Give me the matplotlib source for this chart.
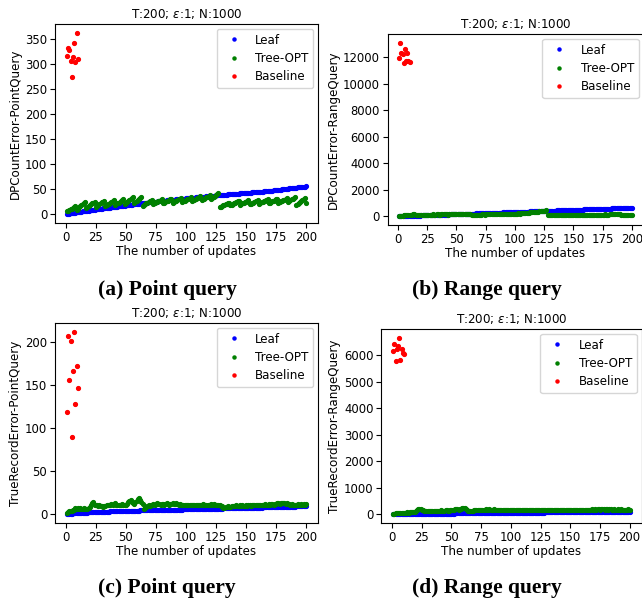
import matplotlib
matplotlib.use("Agg")
import matplotlib.pyplot as plt

updates = list(range(1, 201))
baseline_updates = list(range(1, 11))

title_text = "T:200; $\\varepsilon$:1; N:1000"
xlabel_text = "The number of updates"
series_labels = ["Leaf", "Tree-OPT", "Baseline"]
series_colors = ["b", "g", "r"]

# ---------------- (a) DPCountError-PointQuery ----------------
leaf_a = [
    0.0, 0.4, 0.8, 1.1, 1.5, 1.9, 2.3, 2.6, 3.0, 3.4,
    3.8, 4.1, 4.5, 4.9, 5.3, 5.6, 6.0, 6.4, 6.8, 7.1,
    7.5, 7.9, 8.3, 8.6, 9.0, 9.3, 9.6, 10.0, 10.3, 10.6,
    10.9, 11.2, 11.6, 11.9, 12.2, 12.5, 12.8, 13.2, 13.5, 13.8,
    14.1, 14.4, 14.8, 15.1, 15.4, 15.7, 16.0, 16.4, 16.7, 17.0,
    17.3, 17.7, 18.0, 18.3, 18.7, 19.0, 19.3, 19.7, 20.0, 20.3,
    20.7, 21.0, 21.3, 21.7, 22.0, 22.3, 22.5, 22.8, 23.0, 23.3,
    23.5, 23.8, 24.1, 24.3, 24.6, 24.8, 25.1, 25.3, 25.6, 25.9,
    26.1, 26.4, 26.6, 26.9, 27.1, 27.4, 27.7, 27.9, 28.2, 28.4,
    28.7, 28.9, 29.2, 29.5, 29.7, 30.0, 30.2, 30.5, 30.7, 31.0,
    31.2, 31.5, 31.7, 32.0, 32.2, 32.4, 32.7, 32.9, 33.2, 33.4,
    33.6, 33.9, 34.1, 34.4, 34.6, 34.8, 35.1, 35.3, 35.6, 35.8,
    36.0, 36.3, 36.5, 36.8, 37.0, 37.2, 37.4, 37.6, 37.8, 38.0,
    38.2, 38.4, 38.6, 38.8, 39.0, 39.2, 39.4, 39.6, 39.8, 40.0,
    40.2, 40.4, 40.6, 40.8, 41.0, 41.2, 41.4, 41.6, 41.8, 42.0,
    42.2, 42.4, 42.6, 42.8, 43.0, 43.2, 43.4, 43.6, 43.8, 44.0,
    44.2, 44.4, 44.6, 44.8, 45.0, 45.2, 45.4, 45.6, 45.8, 46.0,
    46.3, 46.6, 46.9, 47.2, 47.5, 47.8, 48.1, 48.4, 48.7, 49.0,
    49.3, 49.6, 49.9, 50.2, 50.5, 50.8, 51.1, 51.4, 51.7, 52.0,
    52.3, 52.6, 52.9, 53.2, 53.5, 53.8, 54.1, 54.4, 54.7, 55.0,
]
tree_a = [
    5, 6, 8, 9, 10, 12, 13, 15,
    8, 10, 13, 15, 17, 20, 22, 24,
    12, 14, 16, 17, 19, 21, 22, 24,
    14, 16, 17, 19, 21, 23, 24, 26,
    15, 17, 19, 20, 22, 24, 25, 27,
    17, 19, 21, 22, 24, 26, 27, 29,
    20, 22, 24, 25, 27, 29, 31, 33,
    22, 24, 26, 28, 30, 31, 33,
    16, 18, 19, 21, 22, 23, 25, 26, 27,
    20, 21, 23, 24, 25, 26, 28, 29,
    21, 22, 24, 25, 26, 27, 29, 30,
    22, 23, 25, 26, 28, 29, 30, 32,
    23, 25, 26, 28, 29, 30, 32, 33,
    25, 27, 28, 29, 31, 32, 34, 35,
    27, 29, 30, 32, 33, 34, 36, 37,
    30, 32, 34, 36, 38, 40, 42,
    13, 14, 15, 17, 18, 19, 20, 21, 22,
    17, 18, 20, 21, 22, 23, 25, 26,
    18, 19, 21, 22, 23, 24, 26, 27,
    19, 20, 21, 22, 24, 25, 26, 27,
    20, 21, 23, 24, 25, 26, 28, 29,
    21, 22, 24, 25, 26, 27, 29, 30,
    22, 23, 25, 26, 27, 28, 30, 31,
    24, 26, 27, 29, 30, 32, 33,
    18, 20, 22, 24, 25, 27, 29, 31, 22,
]
base_a = [315, 331, 328, 306, 273, 313, 341, 303, 361, 310]

# ---------------- (b) DPCountError-RangeQuery ----------------
leaf_b = [
    3, 7, 10, 13, 16, 20, 23, 26, 29, 33,
    36, 39, 42, 46, 49, 52, 55, 59, 62, 65,
    68, 72, 75, 78, 81, 85, 88, 91, 94, 98,
    101, 104, 107, 111, 114, 117, 120, 124, 127, 130,
    133, 137, 140, 143, 146, 150, 153, 156, 159, 163,
    166, 169, 172, 176, 179, 182, 185, 189, 192, 195,
    198, 202, 205, 208, 211, 215, 218, 221, 224, 228,
    231, 234, 237, 241, 244, 247, 250, 254, 257, 260,
    263, 267, 270, 273, 276, 280, 283, 286, 289, 293,
    296, 299, 302, 306, 309, 312, 315, 319, 322, 325,
    328, 332, 335, 338, 341, 345, 348, 351, 354, 358,
    361, 364, 367, 371, 374, 377, 380, 384, 387, 390,
    393, 397, 400, 403, 406, 410, 413, 416, 419, 423,
    426, 429, 432, 436, 439, 442, 445, 449, 452, 455,
    458, 462, 465, 468, 471, 475, 478, 481, 484, 488,
    491, 494, 497, 501, 504, 507, 510, 514, 517, 520,
    523, 527, 530, 533, 536, 540, 543, 546, 549, 553,
    556, 559, 562, 566, 569, 572, 575, 579, 582, 585,
    588, 592, 595, 598, 601, 605, 608, 611, 614, 618,
    621, 624, 627, 631, 634, 637, 640, 644, 647, 650,
]
tree_b = [
    20, 40, 60, 55, 80, 90, 70, 100, 110, 95,
    120, 130, 150, 170, 140, 110, 120, 130, 115, 125,
    140, 120, 130, 135, 110, 120, 125, 140, 130, 150,
    140, 130, 145, 150, 135, 140, 160, 150, 145, 155,
    165, 150, 140, 155, 160, 170, 150, 145, 160, 165,
    150, 160, 175, 170, 155, 165, 180, 170, 160, 175,
    165, 150, 140, 110, 120, 130, 125, 135, 140, 130,
    140, 150, 145, 135, 150, 160, 155, 145, 150, 160,
    165, 155, 150, 160, 170, 165, 155, 170, 175, 165,
    160, 175, 180, 170, 185, 190, 180, 195, 200, 205,
    200, 210, 220, 215, 230, 240, 235, 250, 260, 270,
    280, 290, 295, 305, 310, 320, 330, 340, 345, 355,
    370, 380, 395, 410, 420, 440, 455, 80, 90, 95,
    100, 110, 95, 105, 115, 100, 110, 120, 105, 115,
    125, 110, 100, 115, 120, 105, 110, 120, 130, 115,
    100, 110, 120, 105, 115, 125, 110, 100, 115, 125,
    130, 115, 105, 120, 125, 110, 120, 130, 140, 125,
    115, 125, 135, 120, 130, 140, 150, 135, 125, 140,
    150, 160, 145, 155, 165, 175, 160, 150, 170, 180,
    90, 100, 110, 95, 105, 115, 100, 110, 90, 100,
]
base_b = [11900, 13090, 12280, 12200, 11570, 12640, 11700, 12280, 11700, 11620]

# ---------------- (c) TrueRecordError-PointQuery ----------------
leaf_c = [
    0.1, 0.2, 0.3, 0.4, 0.5, 0.6, 0.7, 0.8, 0.9, 1.0,
    1.1, 1.2, 1.3, 1.4, 1.4, 1.5, 1.6, 1.7, 1.8, 1.9,
    2.0, 2.0, 2.1, 2.2, 2.2, 2.3, 2.4, 2.4, 2.5, 2.5,
    2.6, 2.6, 2.7, 2.7, 2.8, 2.8, 2.9, 2.9, 3.0, 3.0,
    3.1, 3.1, 3.2, 3.2, 3.3, 3.3, 3.4, 3.4, 3.5, 3.5,
    3.6, 3.6, 3.7, 3.7, 3.8, 3.8, 3.9, 3.9, 4.0, 4.0,
    4.0, 4.1, 4.1, 4.1, 4.2, 4.2, 4.2, 4.3, 4.3, 4.3,
    4.4, 4.4, 4.4, 4.5, 4.5, 4.5, 4.6, 4.6, 4.6, 4.7,
    4.7, 4.7, 4.8, 4.8, 4.8, 4.9, 4.9, 4.9, 5.0, 5.0,
    5.0, 5.1, 5.1, 5.1, 5.2, 5.2, 5.2, 5.3, 5.3, 5.3,
    5.4, 5.4, 5.4, 5.5, 5.5, 5.5, 5.6, 5.6, 5.6, 5.7,
    5.7, 5.7, 5.8, 5.8, 5.8, 5.9, 5.9, 5.9, 6.0, 6.0,
    6.0, 6.1, 6.1, 6.1, 6.2, 6.2, 6.2, 6.3, 6.3, 6.3,
    6.4, 6.4, 6.4, 6.5, 6.5, 6.5, 6.6, 6.6, 6.6, 6.7,
    6.7, 6.7, 6.8, 6.8, 6.8, 6.9, 6.9, 6.9, 7.0, 7.0,
    7.0, 7.1, 7.1, 7.2, 7.2, 7.2, 7.3, 7.3, 7.4, 7.4,
    7.4, 7.5, 7.5, 7.6, 7.6, 7.6, 7.7, 7.7, 7.8, 7.8,
    7.8, 7.9, 7.9, 8.0, 8.0, 8.0, 8.1, 8.1, 8.2, 8.2,
    8.2, 8.3, 8.3, 8.4, 8.4, 8.4, 8.5, 8.5, 8.6, 8.6,
    8.6, 8.7, 8.7, 8.8, 8.8, 8.8, 8.9, 8.9, 9.0, 9.0,
]
tree_c = [
    1.5, 2, 3, 3, 4, 5, 5, 7, 6, 7,
    6, 7, 6, 6, 7, 6, 6, 6, 7, 8,
    10, 13, 14, 11, 10, 10, 9, 10, 9, 9,
    8, 9, 9, 10, 11, 10, 11, 12, 11, 12,
    13, 11, 10, 11, 11, 10, 12, 11, 10, 11,
    12, 14, 15, 16, 14, 13, 12, 14, 15, 17,
    18, 16, 14, 12, 6, 7, 8, 9, 10, 9,
    10, 11, 12, 11, 12, 13, 12, 12, 11, 12,
    12, 11, 12, 13, 12, 11, 12, 12, 13, 12,
    12, 13, 12, 11, 12, 11, 10, 11, 10, 10,
    10, 10, 11, 10, 10, 11, 10, 11, 11, 10,
    10, 11, 11, 12, 11, 10, 11, 10, 10, 11,
    12, 11, 12, 10, 11, 11, 10, 10, 9, 9,
    7, 7, 8, 8, 9, 8, 8, 9, 9, 9,
    9, 10, 9, 9, 10, 9, 10, 9, 9, 10,
    9, 10, 10, 9, 10, 10, 11, 10, 10, 11,
    10, 11, 10, 11, 11, 12, 11, 11, 12, 11,
    12, 12, 11, 12, 12, 13, 13, 12, 13, 13,
    13, 13, 12, 13, 12, 12, 11, 12, 11, 11,
    11, 11, 12, 11, 11, 12, 11, 12, 11, 12,
]
base_c = [118.5, 207, 156, 200.7, 89, 165.8, 211, 127.7, 171.6, 146.4]

# ---------------- (d) TrueRecordError-RangeQuery ----------------
leaf_d = [
    1, 1, 2, 2, 3, 3, 4, 4, 5, 5,
    6, 6, 7, 7, 8, 8, 9, 9, 10, 10,
    11, 11, 12, 12, 13, 13, 14, 14, 15, 15,
    16, 16, 17, 17, 18, 18, 19, 19, 20, 20,
    21, 21, 22, 22, 23, 23, 24, 24, 25, 25,
    26, 26, 27, 27, 28, 28, 29, 29, 30, 30,
    31, 31, 32, 32, 33, 33, 34, 34, 35, 35,
    36, 36, 37, 37, 38, 38, 39, 39, 40, 40,
    41, 41, 42, 42, 43, 43, 44, 44, 45, 45,
    46, 46, 47, 47, 48, 48, 49, 49, 50, 50,
    51, 51, 52, 52, 53, 53, 54, 54, 55, 55,
    56, 56, 57, 57, 58, 58, 59, 59, 60, 60,
    61, 61, 62, 62, 63, 63, 64, 64, 65, 65,
    66, 66, 67, 67, 68, 68, 69, 69, 70, 70,
    71, 71, 72, 72, 73, 73, 74, 74, 75, 75,
    76, 76, 77, 77, 78, 78, 79, 79, 80, 80,
    81, 81, 82, 82, 83, 83, 84, 84, 85, 85,
    86, 86, 87, 87, 88, 88, 89, 89, 90, 90,
    91, 91, 92, 92, 93, 93, 94, 94, 95, 95,
    96, 96, 97, 97, 98, 98, 99, 99, 100, 100,
]
tree_d = [
    20, 25, 30, 35, 30, 40, 45, 50, 40, 55,
    50, 60, 65, 55, 70, 75, 80, 70, 90, 120,
    170, 210, 190, 180, 160, 150, 140, 130, 120, 125,
    120, 115, 125, 130, 120, 125, 135, 130, 120, 140,
    145, 135, 130, 140, 150, 145, 140, 135, 150, 160,
    150, 160, 190, 200, 180, 170, 190, 210, 240, 250,
    230, 200, 160, 120, 110, 120, 130, 140, 150, 145,
    150, 155, 160, 170, 165, 160, 170, 175, 180, 170,
    175, 180, 170, 165, 175, 180, 170, 165, 170, 175,
    165, 170, 160, 165, 170, 160, 155, 165, 160, 155,
    150, 160, 155, 165, 160, 150, 155, 160, 165, 155,
    160, 165, 170, 160, 155, 165, 170, 160, 165, 170,
    160, 155, 165, 170, 160, 155, 150, 160, 165, 170,
    175, 160, 150, 145, 150, 155, 160, 150, 155, 160,
    155, 150, 160, 155, 150, 160, 165, 155, 150, 160,
    155, 160, 165, 160, 155, 165, 170, 160, 165, 170,
    165, 160, 170, 175, 165, 170, 175, 180, 170, 175,
    180, 175, 185, 180, 175, 185, 190, 180, 175, 185,
    180, 175, 185, 180, 175, 170, 180, 175, 170, 180,
    175, 170, 180, 175, 170, 165, 175, 170, 180, 175,
]
base_d = [6144, 6434, 5779, 6219, 6344, 6660, 5817, 6246, 6095, 6031]

ylabels = [
    "DPCountError-PointQuery",
    "DPCountError-RangeQuery",
    "TrueRecordError-PointQuery",
    "TrueRecordError-RangeQuery",
]
captions = ["(a) Point query", "(b) Range query", "(c) Point query", "(d) Range query"]

panels = [
    (leaf_a, tree_a, base_a),
    (leaf_b, tree_b, base_b),
    (leaf_c, tree_c, base_c),
    (leaf_d, tree_d, base_d),
]

W, H = 642, 601
fig = plt.figure(figsize=(W / 100, H / 100), dpi=100)

# axes boxes in pixels: left, top, right, bottom
boxes = [
    (55, 24, 318, 223),
    (387.5, 34, 643.5, 225),
    (55, 323, 318, 523),
    (381.4, 329, 641.5, 523),
]
caption_pos = [(167, 290), (487, 290), (167, 588), (487, 588)]

tick_fs = 8.4
label_fs = 8.6
title_fs = 8.6
legend_fs = 8.6

for i, (box, (leaf, tree, base)) in enumerate(zip(boxes, panels)):
    l, t, r, b = box
    ax = fig.add_axes([l / W, (H - b) / H, (r - l) / W, (b - t) / H])
    ax.plot(updates, leaf, ".", color=series_colors[0], label=series_labels[0], markersize=5.5)
    ax.plot(updates, tree, ".", color=series_colors[1], label=series_labels[1], markersize=5.5)
    ax.plot(baseline_updates, base, ".", color=series_colors[2], label=series_labels[2], markersize=5.5)
    ax.set_title(title_text, fontsize=title_fs, pad=4)
    ax.set_xlabel(xlabel_text, fontsize=label_fs, labelpad=1)
    ax.set_ylabel(ylabels[i], fontsize=label_fs, labelpad=2)
    ax.set_xticks([0, 25, 50, 75, 100, 125, 150, 175, 200])
    ax.tick_params(labelsize=tick_fs, length=3.5, pad=2)
    ax.legend(loc="upper right", fontsize=legend_fs, labelspacing=0.45,
              borderpad=0.4, handletextpad=0.8, borderaxespad=0.4,
              markerscale=0.8)
    cx, cy = caption_pos[i]
    fig.text(cx / W, (H - cy) / H, captions[i], ha="center", va="center",
             fontsize=15.5, fontweight="bold", family="Liberation Serif")

fig.savefig("out.png", dpi=100)
